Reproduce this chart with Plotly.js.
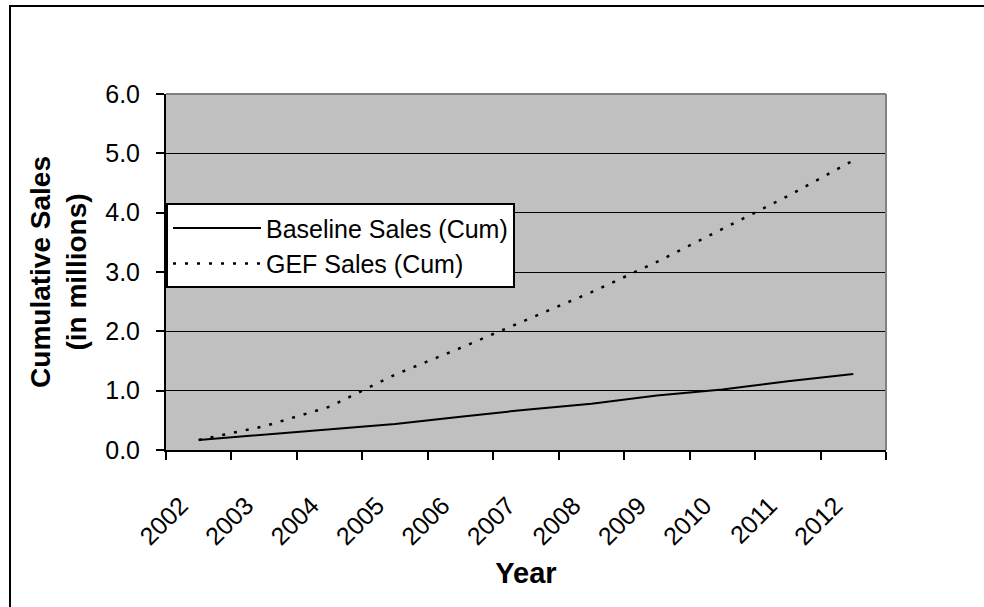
<!DOCTYPE html>
<html>
<head>
<meta charset="utf-8">
<script src="https://cdn.plot.ly/plotly-3.0.1.min.js"></script>
<style>
html,body{margin:0;padding:0;background:#fff;}
#chart{width:984px;height:607px;}
</style>
</head>
<body>
<div id="chart"></div>
<script>
const years = ['2002','2003','2004','2005','2006','2007','2008','2009','2010','2011','2012'];
const baselineCum = [0.17, 0.26, 0.35, 0.44, 0.56, 0.68, 0.78, 0.92, 1.02, 1.16, 1.28];
const gefCum = [0.17, 0.40, 0.73, 1.27, 1.72, 2.19, 2.66, 3.17, 3.72, 4.28, 4.88];
const yTicks = [0, 1, 2, 3, 4, 5, 6];

const FONT = 'Liberation Sans, Arial, sans-serif';

const traces = [
  {
    x: years, y: baselineCum, type: 'scatter', mode: 'lines',
    name: 'Baseline Sales (Cum)', legendgroup: 'a',
    line: {color: '#000000', width: 2}
  },
  {
    x: years, y: gefCum, type: 'scatter', mode: 'lines',
    name: 'GEF Sales (Cum)', legendgroup: 'b',
    line: {color: '#000000', width: 2.5, dash: '3px,9px'}
  }
];

const layout = {
  width: 984, height: 607,
  margin: {l: 166, r: 98, t: 94, b: 157, pad: 0},
  paper_bgcolor: '#ffffff',
  plot_bgcolor: '#c0c0c0',
  font: {family: FONT, color: '#000000', size: 24},
  showlegend: true,
  legend: {
    x: 0, y: 0.693, xanchor: 'left', yanchor: 'top',
    bgcolor: '#ffffff', bordercolor: '#000000', borderwidth: 2,
    font: {family: FONT, size: 25, color: '#000'},
    itemwidth: 88, traceorder: 'grouped', tracegroupgap: 0
  },
  xaxis: {
    type: 'category',
    categoryorder: 'array', categoryarray: years,
    range: [-0.5, 10.5],
    tickson: 'boundaries',
    ticks: 'outside', ticklen: 8, tickwidth: 2, tickcolor: '#000',
    tickangle: -45,
    ticklabelstandoff: 29,
    ticklabelshift: -18,
    showgrid: false, zeroline: false,
    showline: true, linecolor: '#000', linewidth: 2,
    tickfont: {family: FONT, size: 25, color: '#000'},
    title: {text: '<b>Year</b>', font: {family: FONT, size: 29, color: '#000'}, standoff: 13},
    fixedrange: true
  },
  yaxis: {
    range: [0, 6],
    tickvals: yTicks, tickformat: '.1f',
    ticks: 'outside', ticklen: 8, tickwidth: 2, tickcolor: '#000',
    ticklabelstandoff: 11,
    showgrid: true, gridcolor: '#000', gridwidth: 1,
    zeroline: false,
    showline: true, linecolor: '#000', linewidth: 2,
    tickfont: {family: FONT, size: 25, color: '#000'},
    title: {text: '<b>Cumulative Sales<br>(in millions)</b>', font: {family: FONT, size: 28, color: '#000'}, standoff: 10},
    fixedrange: true
  },
  shapes: [
    {type: 'line', xref: 'paper', yref: 'paper', x0: 0, x1: 1, y0: 1, y1: 1, line: {color: '#808080', width: 2}},
    {type: 'line', xref: 'paper', yref: 'paper', x0: 1, x1: 1, y0: 0, y1: 1, line: {color: '#808080', width: 2}},
    {type: 'rect', xref: 'paper', yref: 'paper',
     x0: (10 - 166) / 720, x1: (1010 - 166) / 720,
     y0: (450 - 640) / 356, y1: (450 - 6) / 356,
     line: {color: '#000', width: 2}, fillcolor: 'rgba(0,0,0,0)'}
  ]
};

Plotly.newPlot('chart', traces, layout, {displayModeBar: false, staticPlot: true});
</script>
</body>
</html>
